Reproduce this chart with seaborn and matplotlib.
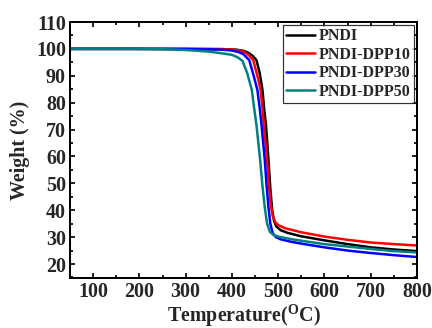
import numpy as np
import pandas as pd
import matplotlib
matplotlib.use("Agg")
import matplotlib.pyplot as plt
import seaborn as sns
from matplotlib.ticker import MultipleLocator

names = ["PNDI", "PNDI-DPP10", "PNDI-DPP30", "PNDI-DPP50"]
colors = ["#000000", "#FF0000", "#0000FF", "#008080"]

t_pndi = [50, 100, 200, 300, 380, 410, 425, 435, 445, 453, 460, 466, 470, 473.6, 479, 483, 487, 491, 496, 505, 520, 550, 600, 650, 700, 750, 800]
w_pndi = [100, 100, 100, 100, 99.9, 99.7, 99.3, 98.6, 97.4, 95.8, 91.0, 84.7, 77.0, 71.7, 58.7, 48.0, 40.0, 36.0, 34.0, 32.6, 31.6, 30.3, 28.8, 27.4, 26.2, 25.4, 24.8]

t_d10 = [50, 100, 200, 300, 380, 405, 420, 430, 438, 446, 455, 462, 466, 469, 476, 480, 484, 488, 494, 500, 515, 550, 600, 650, 700, 750, 800]
w_d10 = [100, 100, 100, 100, 99.9, 99.7, 99.3, 98.6, 97.4, 95.8, 90.0, 84.7, 78.0, 71.7, 58.7, 49.0, 42.0, 38.0, 35.5, 34.5, 33.3, 31.8, 30.2, 29.0, 28.0, 27.4, 26.9]

t_d30 = [50, 100, 200, 300, 370, 400, 415, 425, 437.5, 447, 455, 460, 464, 471, 475, 479, 483, 488, 495, 505, 530, 560, 600, 650, 700, 750, 800]
w_d30 = [100, 100, 100, 99.9, 99.8, 99.4, 98.8, 98.0, 95.8, 90.0, 84.7, 78.0, 71.7, 58.7, 49.0, 41.0, 35.0, 31.5, 30.0, 29.2, 28.2, 27.3, 26.2, 25.0, 24.1, 23.3, 22.6]

t_d50 = [50, 100, 200, 250, 300, 350, 380, 400, 413, 423, 433, 443, 448, 453, 461, 466, 471, 476, 482, 490, 500, 530, 560, 600, 650, 700, 750, 800]
w_d50 = [100, 100, 100, 99.9, 99.6, 99.0, 98.3, 97.8, 96.8, 95.5, 91.0, 84.7, 78.0, 71.7, 58.7, 49.0, 41.0, 35.0, 32.0, 30.8, 30.2, 29.2, 28.4, 27.4, 26.5, 25.6, 24.8, 24.3]

series_t = [t_pndi, t_d10, t_d30, t_d50]
series_w = [w_pndi, w_d10, w_d30, w_d50]

frames = []
for n, t, w in zip(names, series_t, series_w):
    frames.append(pd.DataFrame({"Temperature": t, "Weight": w, "Sample": n}))
df = pd.concat(frames, ignore_index=True)

sns.set_style("ticks")
plt.rcParams["font.family"] = ["Liberation Serif", "DejaVu Serif"]
plt.rcParams["font.weight"] = "bold"
plt.rcParams["mathtext.fontset"] = "custom"
plt.rcParams["mathtext.rm"] = "Liberation Serif:bold"
plt.rcParams["mathtext.bf"] = "Liberation Serif:bold"

fig = plt.figure(figsize=(6.0, 328 / 72), dpi=72)
ax = fig.add_axes([70 / 432, 1 - 278 / 328, 347 / 432, 256 / 328])

sns.lineplot(data=df, x="Temperature", y="Weight", hue="Sample", hue_order=names,
             palette=colors, linewidth=2.5, ax=ax, sort=False, estimator=None)

ax.set_xlim(50, 800)
ax.set_ylim(14.8, 110)
ax.xaxis.set_major_locator(MultipleLocator(100))
ax.xaxis.set_minor_locator(MultipleLocator(50))
ax.yaxis.set_major_locator(MultipleLocator(10))
ax.yaxis.set_minor_locator(MultipleLocator(5))
ax.set_yticks(np.arange(20, 111, 10))

ax.tick_params(which="both", direction="in", top=True, right=True, width=2, labelsize=20, pad=4)
ax.tick_params(which="major", length=5)
ax.tick_params(which="minor", length=3)
for lab in ax.get_xticklabels() + ax.get_yticklabels():
    lab.set_fontweight("bold")
for s in ax.spines.values():
    s.set_linewidth(2)
    s.set_color("black")

ax.set_xlabel(r"Temperature($^{\mathbf{O}}$C)", fontsize=20, fontweight="bold", labelpad=0)
ax.set_ylabel("Weight (%)", fontsize=20, fontweight="bold", labelpad=6)

leg = ax.legend(loc="upper right", frameon=True, fancybox=False,
                handlelength=1.8, handletextpad=0.25, borderpad=0.2, labelspacing=0.15,
                borderaxespad=0.2, prop={"weight": "bold", "size": 16})
leg.get_frame().set_edgecolor("black")
leg.get_frame().set_linewidth(1.2)
for h in leg.get_lines():
    h.set_linewidth(2.5)

fig.savefig("out.png", dpi=72)
